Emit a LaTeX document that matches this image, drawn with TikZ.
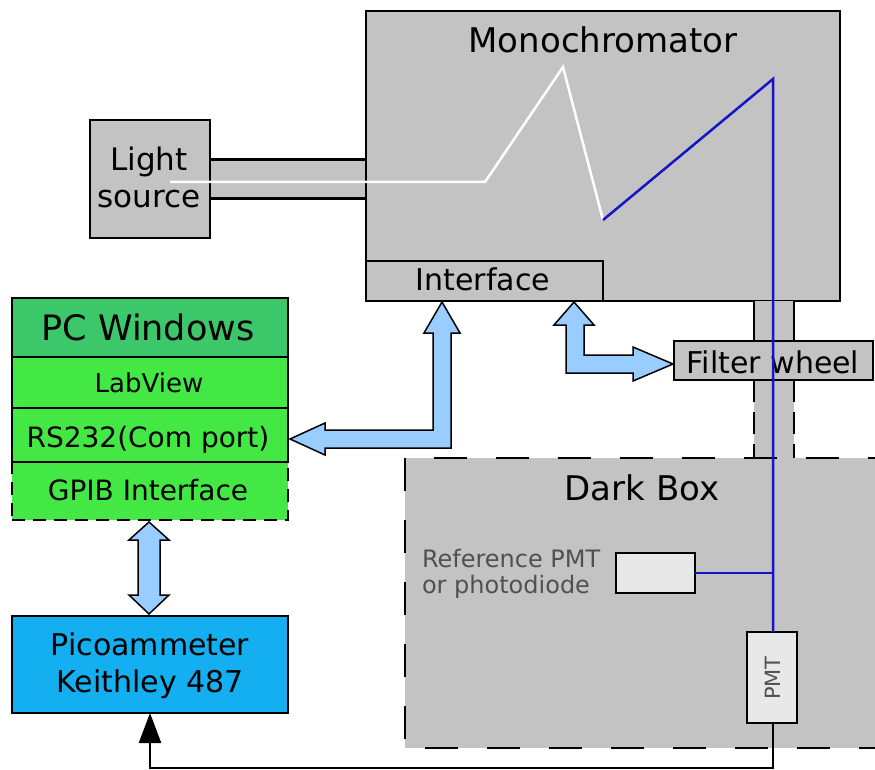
\documentclass[tikz,border=0pt]{standalone}
\usepackage{fontspec}
\setmainfont{DejaVu Sans}
\usetikzlibrary{arrows.meta}
\definecolor{boxgray}{RGB}{195,195,195}
\definecolor{lightbox}{RGB}{232,232,232}
\definecolor{pcdark}{RGB}{60,200,106}
\definecolor{pcgreen}{RGB}{68,232,68}
\definecolor{picoblue}{RGB}{20,175,240}
\definecolor{arrowblue}{RGB}{153,204,255}
\definecolor{beamblue}{RGB}{20,20,200}
\definecolor{reftext}{RGB}{80,80,80}
\tikzset{
  box/.style={draw=black, line width=2.5pt, inner sep=0pt, outer sep=0pt},
  fatarrow/.style={draw=black, line width=1.5pt, fill=arrowblue, line join=miter},
  beam/.style={draw=beamblue, line width=2.5pt},
  whitebeam/.style={draw=white, line width=2.5pt},
  signal/.style={draw=black, line width=2.5pt},
  darkdash/.style={dash pattern=on 33pt off 29pt},
  tubedash/.style={dash pattern=on 22pt off 10pt},
  gpibdash/.style={dash pattern=on 13pt off 8pt},
  lbl/.style={inner sep=0pt, outer sep=0pt},
}
\begin{document}
\begin{tikzpicture}[x=1pt,y=-1pt]
\useasboundingbox (0,0) rectangle (875,770);
\fill[white] (0,0) rectangle (875,770);

% light guide
\fill[boxgray] (210,160) rectangle (366,199);
\draw[line width=3pt] (210,160) -- (366,160);
\draw[line width=3pt] (210,199) -- (366,199);

% light source
\node[box, fill=boxgray, minimum width=120pt, minimum height=118pt] (light) at (150,179) {};
\node[lbl, font=\fontsize{31}{37}\selectfont, align=center] (lighttext) at (149,177) {Light\\source};

% monochromator
\node[box, fill=boxgray, minimum width=474pt, minimum height=290pt] (mono) at (603,156) {};
\node[lbl, anchor=base, font=\fontsize{34}{40}\selectfont] (monotext) at (603,53) {Monochromator};
\node[box, fill=boxgray, minimum width=237pt, minimum height=40pt] (iface) at (484.5,281) {};
\node[lbl, anchor=base, font=\fontsize{30}{36}\selectfont] (ifacetext) at (483,290) {Interface};

% tube to dark box
\fill[boxgray] (754,301) rectangle (794,458);
\draw[line width=2.5pt] (754,301) -- (754,341) (794,301) -- (794,341);
\draw[line width=2.5pt, tubedash] (754,380) -- (754,458) (794,380) -- (794,458);

% filter wheel
\node[box, fill=boxgray, minimum width=199pt, minimum height=39pt] (fw) at (773.5,360.5) {};
\node[lbl, anchor=base, font=\fontsize{30}{36}\selectfont] (fwtext) at (773,373) {Filter wheel};

% dark box
\draw[line width=2.5pt, fill=boxgray, darkdash] (405,458) rectangle (890,748);
\node[lbl, anchor=base, font=\fontsize{34}{40}\selectfont] (darktext) at (642,500) {Dark Box};
\node[box, fill=lightbox, minimum width=79pt, minimum height=40pt] (ref) at (655.5,573) {};
\node[lbl, anchor=west, align=left, text=reftext, font=\fontsize{24}{26}\selectfont] (reftxt) at (422,574) {Reference PMT\\or photodiode};
\node[box, fill=lightbox, minimum width=50pt, minimum height=91pt] (pmt) at (772,677.5) {};
\node[lbl, rotate=90, text=reftext, font=\fontsize{21}{25}\selectfont] (pmttext) at (773,678) {PMT};

% PC stack
\node[box, fill=pcgreen, gpibdash, minimum width=276pt, minimum height=58pt] (gpib) at (150,491) {};
\node[box, fill=pcgreen, minimum width=276pt, minimum height=54pt] (rs) at (150,435) {};
\node[box, fill=pcgreen, minimum width=276pt, minimum height=51pt] (labview) at (150,382.5) {};
\node[box, fill=pcdark, minimum width=276pt, minimum height=59pt] (pc) at (150,327.5) {};
\node[lbl, anchor=base, font=\fontsize{35}{40}\selectfont] (pctext) at (148,340) {PC Windows};
\node[lbl, anchor=base, font=\fontsize{26}{30}\selectfont] (lvtext) at (149,392) {LabView};
\node[lbl, anchor=base, font=\fontsize{28}{32}\selectfont] (rstext) at (148,447) {RS232(Com port)};
\node[lbl, anchor=base, font=\fontsize{28}{32}\selectfont] (gpibtext) at (148,500) {GPIB Interface};

% picoammeter
\node[box, fill=picoblue, minimum width=276pt, minimum height=97pt] (pico) at (150,664.5) {};
\node[lbl, align=center, font=\fontsize{30}{37}\selectfont] (picotext) at (150,666) {Picoammeter\\Keithley 487};

% fat arrows
\draw[fatarrow] (290,439) -- (325,423) -- (325,430) -- (433,430) -- (433,333) -- (424,333)
  -- (442,302) -- (460,333) -- (451,333) -- (451,448) -- (325,448) -- (325,455) -- cycle;
\draw[fatarrow] (574,302) -- (594,325) -- (584,325) -- (584,355) -- (633,355) -- (633,347)
  -- (673,364) -- (633,381) -- (633,373) -- (566,373) -- (566,325) -- (554,325) -- cycle;
\draw[fatarrow] (149,522) -- (169,540) -- (160,540) -- (160,595) -- (169,595) -- (149,614)
  -- (129,595) -- (138,595) -- (138,540) -- (129,540) -- cycle;

% light path
\coordinate (w0) at (170,182);
\coordinate (w1) at (485,182);
\coordinate (w2) at (563,67);
\coordinate (w3) at (603,220);
\coordinate (b1) at (773,79);
\draw[whitebeam] (w0) -- (w1) -- (w2) -- (w3);
\draw[beam] (w3) -- (b1) -- (b1 |- pmt.north);
\draw[beam] (ref.east) -- (ref.east -| b1);

% signal line
\coordinate (s1) at (773,768);
\draw[signal, -{Triangle[width=22pt,length=30pt]}] (pmt.south -| s1) -- (s1) -| (pico.south);
\end{tikzpicture}
\end{document}
